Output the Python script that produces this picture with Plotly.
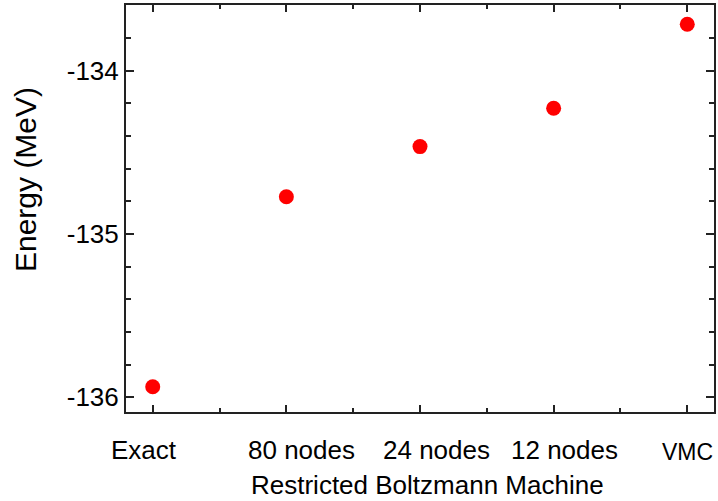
import plotly.graph_objects as go

# ---- data ----
methods = ["Exact", "80 nodes", "24 nodes", "12 nodes", "VMC"]
energy_mev = [-135.935, -134.772, -134.465, -134.230, -133.716]
y_tick_vals = [-136, -135, -134]
y_tick_text = ["-136", "-135", "-134"]
label_xshift = [-9, 15, 16, 11, 0]
label_size = [26, 26, 26, 26, 23]

FONT = "Liberation Sans, Arial, Helvetica, sans-serif"
AX = "#222222"

xpos = list(range(len(methods)))

fig = go.Figure()
fig.add_trace(go.Scatter(
    x=xpos, y=energy_mev, mode="markers",
    marker=dict(color="#ff0000", size=15, line=dict(width=0)),
    showlegend=False, hoverinfo="y",
))

annotations = []
for i, (lab, sh, fs) in enumerate(zip(methods, label_xshift, label_size)):
    annotations.append(dict(
        x=i, xref="x", y=0, yref="paper", yshift=-38 if fs == 26 else -40,
        xshift=sh, text=lab, showarrow=False, xanchor="center", yanchor="middle",
        font=dict(family=FONT, size=fs, color="black"),
    ))
annotations.append(dict(
    x=0.512, xref="paper", y=0, yref="paper", yshift=-73,
    text="Restricted Boltzmann Machine", showarrow=False,
    xanchor="center", yanchor="middle",
    font=dict(family=FONT, size=26, color="black"),
))
annotations.append(dict(
    x=0, xref="paper", xshift=-101, y=0.57, yref="paper",
    text="Energy (MeV)", textangle=-90, showarrow=False,
    xanchor="center", yanchor="middle",
    font=dict(family=FONT, size=30, color="black"),
))

fig.update_layout(
    width=718, height=501,
    margin=dict(l=126, r=2, t=5, b=89),
    paper_bgcolor="white", plot_bgcolor="white",
    font=dict(family=FONT, size=26, color="black"),
    annotations=annotations,
)
fig.update_xaxes(
    range=[-0.2, 4.2], tickmode="array", tickvals=xpos, showticklabels=False,
    ticks="inside", ticklen=7, tickwidth=1.5, tickcolor=AX,
    showline=True, linecolor=AX, linewidth=2, mirror="allticks",
    showgrid=False, zeroline=False,
    minor=dict(tickmode="linear", tick0=0, dtick=0.5, ticks="inside",
               ticklen=4, tickwidth=1.5, tickcolor=AX, showgrid=False),
)
fig.update_yaxes(
    range=[-136.09, -133.598], tickmode="array", tickvals=y_tick_vals,
    ticktext=y_tick_text, tickfont=dict(family=FONT, size=26, color="black"),
    ticks="inside", ticklen=8, tickwidth=1.5, tickcolor=AX,
    showline=True, linecolor=AX, linewidth=2, mirror="allticks",
    showgrid=False, zeroline=False,
    minor=dict(tickmode="linear", tick0=-136, dtick=0.2, ticks="inside",
               ticklen=5, tickwidth=1.5, tickcolor=AX, showgrid=False),
)

fig.write_html("out.html", config={"displayModeBar": False},
               post_script="document.body.style.margin='0';document.body.style.padding='0';")
